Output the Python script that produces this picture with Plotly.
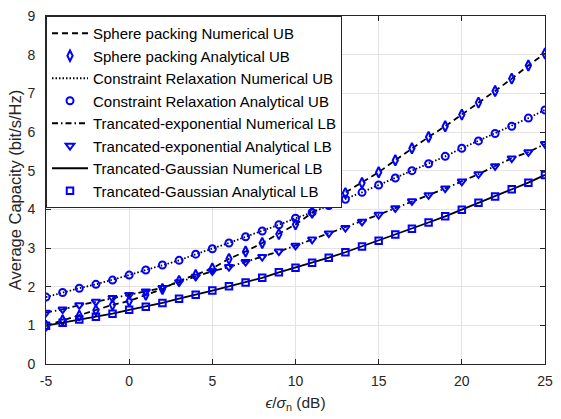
import plotly.graph_objects as go

snr_db = list(range(-5, 26))

sphere_ub = [0.99, 1.13, 1.25, 1.39, 1.53, 1.63, 1.79, 1.94, 2.15, 2.30, 2.47, 2.72, 2.91, 3.13, 3.36,
             3.61, 3.91, 4.17, 4.42, 4.68, 4.96, 5.27, 5.58, 5.87, 6.15, 6.45, 6.76, 7.06, 7.38, 7.72, 8.03]
relax_ub = [1.73, 1.85, 1.96, 2.06, 2.17, 2.30, 2.43, 2.56, 2.68, 2.84, 2.98, 3.13, 3.29, 3.44, 3.60,
            3.77, 3.92, 4.10, 4.26, 4.44, 4.63, 4.81, 5.00, 5.18, 5.37, 5.58, 5.77, 5.96, 6.15, 6.36, 6.57]
texp_lb = [1.33, 1.41, 1.52, 1.61, 1.71, 1.79, 1.88, 1.97, 2.12, 2.26, 2.40, 2.51, 2.64, 2.77, 2.91,
           3.06, 3.22, 3.38, 3.52, 3.68, 3.86, 4.03, 4.21, 4.37, 4.54, 4.72, 4.91, 5.12, 5.32, 5.48, 5.69]
tgauss_lb = [0.99, 1.07, 1.15, 1.22, 1.30, 1.40, 1.48, 1.58, 1.69, 1.79, 1.90, 2.01, 2.11, 2.23, 2.37,
             2.49, 2.62, 2.75, 2.89, 3.04, 3.19, 3.35, 3.50, 3.66, 3.82, 3.99, 4.17, 4.33, 4.52, 4.69, 4.89]

x_ticks = [-5, 0, 5, 10, 15, 20, 25]
x_tick_labels = ["-5", "0", "5", "10", "15", "20", "25"]
y_ticks = list(range(0, 10))

series = [
    ("Sphere packing", sphere_ub, "UB", "6px,4px", "diamond-tall-open", 7.5),
    ("Constraint Relaxation", relax_ub, "UB", "1.5px,2px", "circle-open", 7),
    ("Trancated-exponential", texp_lb, "LB", "6px,3px,1.5px,3px", "triangle-down-open", 7.5),
    ("Trancated-Gaussian", tgauss_lb, "LB", "solid", "square-open", 6.5),
]

fig = go.Figure()
for name, vals, kind, dash, sym, msize in series:
    fig.add_trace(go.Scatter(
        x=snr_db, y=vals, mode="lines", name=f"{name} Numerical {kind}",
        line=dict(color="black", width=1.8, dash=dash)))
    fig.add_trace(go.Scatter(
        x=snr_db, y=vals, mode="markers", name=f"{name} Analytical {kind}",
        marker=dict(symbol=sym, size=msize, color="blue",
                    line=dict(color="blue", width=2))))

axis_common = dict(
    showgrid=True, gridcolor="#e3e3e3", gridwidth=1,
    showline=True, linecolor="#262626", linewidth=1, mirror="ticks",
    ticks="inside", ticklen=5, tickcolor="#262626",
    tickfont=dict(family="Liberation Sans, Arial", size=14, color="#262626"),
    zeroline=False,
)

fig.update_layout(
    width=561, height=419,
    margin=dict(l=46, r=8, t=9, b=55),
    paper_bgcolor="white", plot_bgcolor="white",
    font=dict(family="Liberation Sans, Arial", size=14, color="#262626"),
    xaxis=dict(range=[-5, 25], tickvals=x_ticks, ticktext=x_tick_labels,
               ticklabelstandoff=4,
               title=dict(text="<i>ϵ</i>/<i>σ</i><sub>n</sub> (dB)", standoff=9,
                          font=dict(size=15.5)), **axis_common),
    yaxis=dict(range=[0, 9], tickvals=y_ticks, ticklabelstandoff=7,
               title=dict(text="Average Capacity (bit/s/Hz)", standoff=1,
                          font=dict(size=16.5)), **axis_common),
    legend=dict(x=0, y=1, xanchor="left", yanchor="top",
                bgcolor="white", bordercolor="#262626", borderwidth=1,
                font=dict(size=15, color="black"), tracegroupgap=0,
                itemwidth=36),
    showlegend=True,
)

fig.write_html("out.html")
